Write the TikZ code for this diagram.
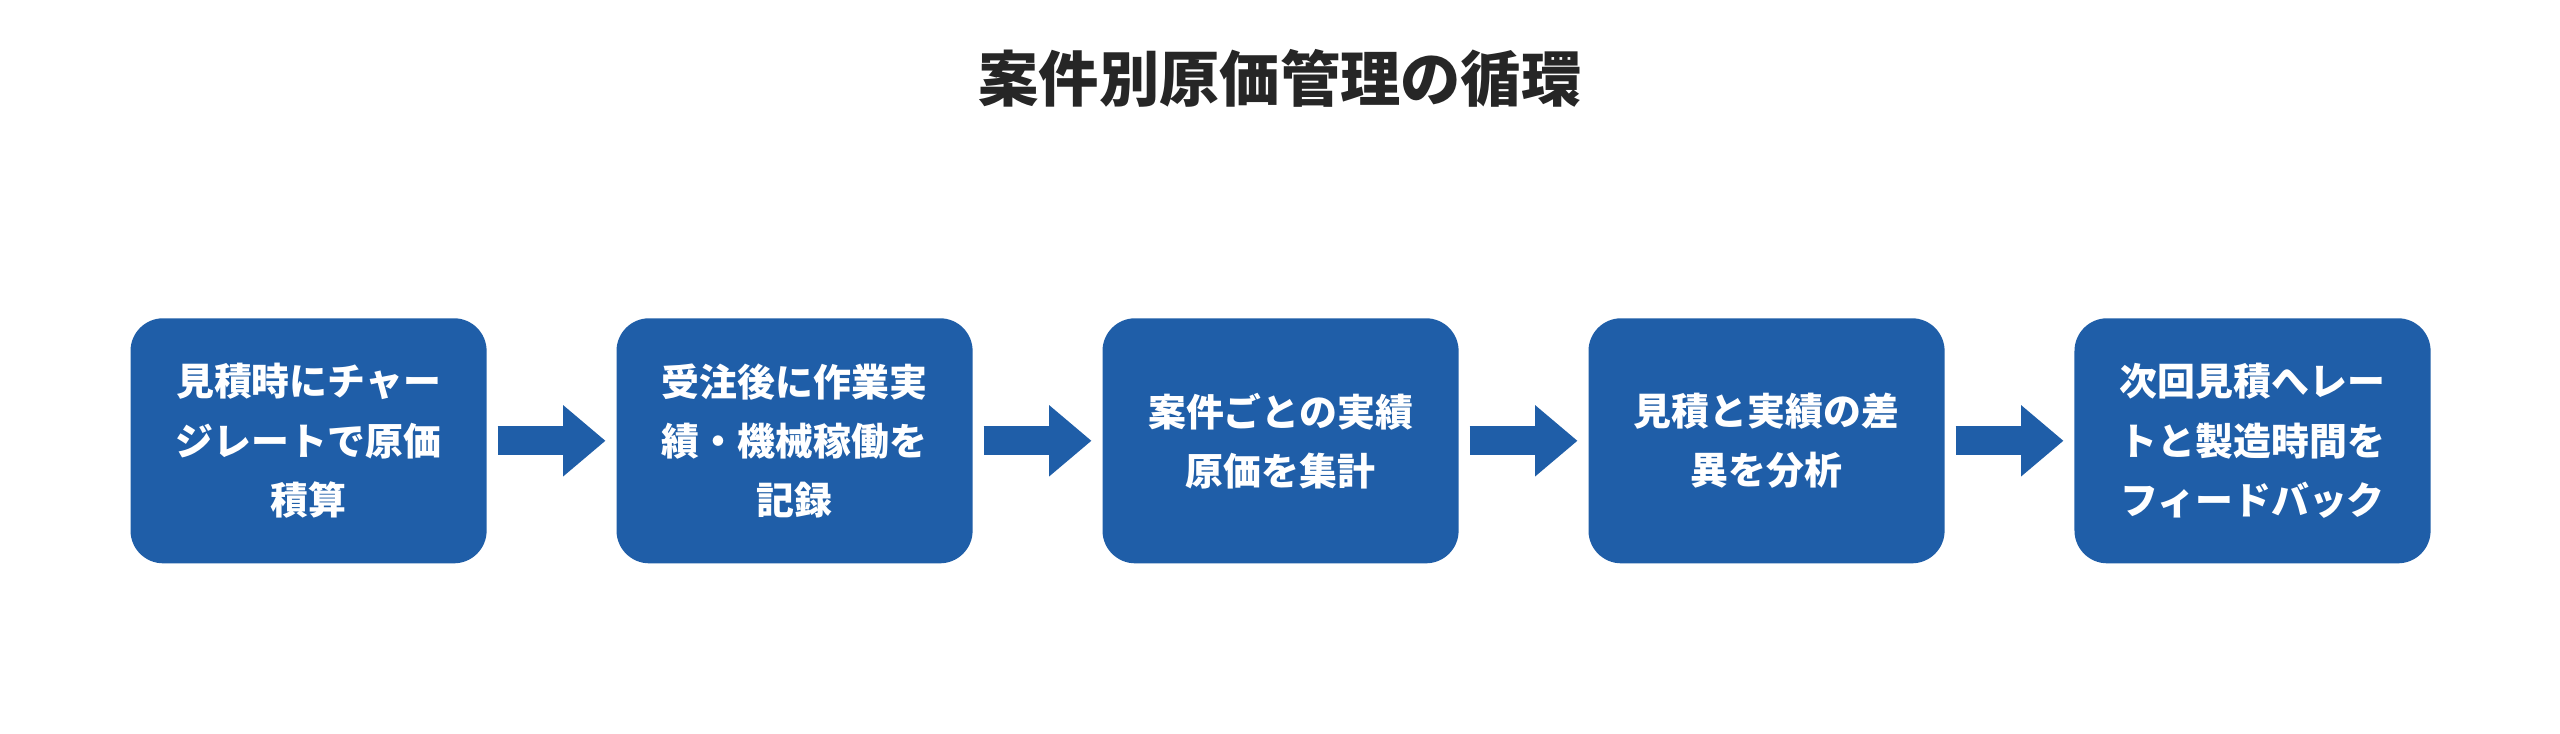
\documentclass[tikz,border=0pt]{standalone}
\usepackage{fontspec}
\newfontfamily\cjk{Noto Sans CJK JP}
\usetikzlibrary{arrows.meta,positioning}
\definecolor{stepblue}{HTML}{1F5EA8}
\begin{document}
\begin{tikzpicture}[x=0.01cm,y=0.01cm]
	\tikzstyle{stage} = [fill=stepblue, rounded corners=0.2cm, minimum width=2.18cm, minimum height=1.5cm, text=white, align=center, font={\cjk\bfseries\fontsize{6.6pt}{10.3pt}\selectfont}, node distance=2.975cm, on grid];
	\tikzstyle{flow} = [stepblue, line width=0.18cm, -{Triangle[length=0.26cm,width=0.42cm]}, shorten <=0.06cm, shorten >=0.06cm];

	\fill[white] (0,0) rectangle (1568,449);
	\node[font={\cjk\bfseries\fontsize{10.5pt}{12pt}\selectfont}, text=black!85] (title) at (784,401) {案件別原価管理の循環};

	\node[stage] (estimate) at (189,179) {見積時にチャー\\ジレートで原価\\積算};
	\node[stage] (record) [right=of estimate] {受注後に作業実\\績・機械稼働を\\記録};
	\node[stage] (total) [right=of record] {案件ごとの実績\\原価を集計};
	\node[stage] (diff) [right=of total] {見積と実績の差\\異を分析};
	\node[stage] (feedback) [right=of diff] {次回見積へレー\\トと製造時間を\\フィードバック};

	\draw[flow] (estimate) -- (record);
	\draw[flow] (record) -- (total);
	\draw[flow] (total) -- (diff);
	\draw[flow] (diff) -- (feedback);
\end{tikzpicture}
\end{document}
